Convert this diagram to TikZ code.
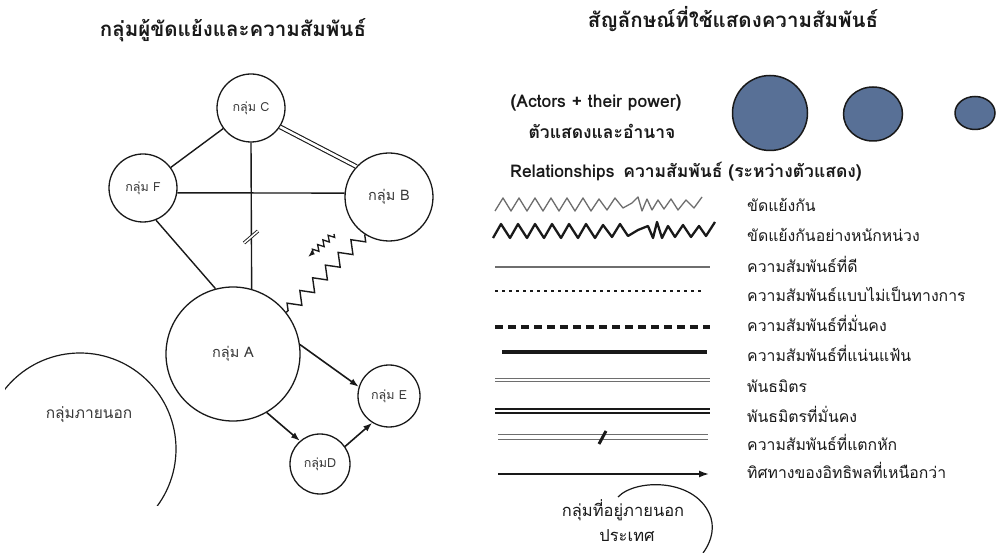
\documentclass[tikz,border=0pt]{standalone}
\usepackage{fontspec}
\setmainfont{Loma}[Script=Thai]
\usetikzlibrary{decorations.pathmorphing,arrows.meta,shapes.geometric,calc}
\definecolor{actorblue}{RGB}{88,112,150}
\definecolor{ink}{RGB}{25,25,25}
\definecolor{labelgray}{RGB}{55,55,55}
\definecolor{lightink}{RGB}{110,110,110}
\tikzset{
  actor/.style={circle,draw=ink,line width=1.3pt,inner sep=0pt,minimum size=#1,text=labelgray},
  smalllabel/.style={font=\fontsize{12.5}{14}\selectfont},
  biglabel/.style={font=\fontsize{14.5}{16}\selectfont},
  rel/.style={draw=ink,line width=1.4pt},
  allyline/.style={draw=ink,line width=1.1pt,double=white,double distance=2.6pt},
  infl/.style={draw=ink,line width=1.6pt,-{Latex[length=9pt,width=6.5pt]}},
  conflictline/.style={draw=ink,line width=1.4pt,decorate,decoration={zigzag,segment length=18pt,amplitude=6pt}},
  legendlabel/.style={anchor=base west,font=\fontsize{15.8}{18}\selectfont,text=ink,inner sep=0pt},
  headline/.style={anchor=base,font=\bfseries\fontsize{20.5}{24}\selectfont,text=ink,inner sep=0pt},
  legendhead/.style={font=\bfseries\fontsize{17.5}{20}\selectfont,text=ink,inner sep=0pt},
  powercircle/.style={ellipse,draw=ink,fill=actorblue,line width=1.5pt,inner sep=0pt},
  outergroup/.style={draw=ink,line width=1.2pt},
  thinzig/.style={draw=lightink,line width=1.3pt,line join=round},
  thickzig/.style={draw=ink,line width=2.3pt,line join=round}
}
\begin{document}
\begin{tikzpicture}[x=1pt,y=-1pt]
\useasboundingbox (0,0) rectangle (1002,553);
\fill[white] (0,0) rectangle (1002,553);

% ---------- left: actors ----------
\node[headline] (ltitle) at (233,37) {กลุ่มผู้ขัดแย้งและความสัมพันธ์};

\node[actor=68pt,smalllabel] (C) at (251,108) {กลุ่ม C};
\node[actor=68pt,smalllabel] (F) at (143,188) {กลุ่ม F};
\node[actor=88pt,biglabel] (B) at (389,197) {กลุ่ม B};
\node[actor=134pt,biglabel] (A) at (233,354) {กลุ่ม A};
\node[actor=62pt,smalllabel] (E) at (389,396) {กลุ่ม E};
\node[actor=60pt,smalllabel] (D) at (320,464) {กลุ่มD};

% outside group
\begin{scope}
  \clip (5,0) rectangle (200,505);
  \draw[outergroup] (80,449) circle[radius=96pt];
\end{scope}
\node[font=\fontsize{15.5}{18}\selectfont,text=labelgray] (ext) at (89,415) {กลุ่มภายนอก};

% relations
\draw[rel] (C) -- (F);
\draw[allyline] (C.-33) -- (B.137);
\draw[rel] (C.south) -- (A.74);
\draw[ink,line width=0.9pt,double=white,double distance=1.6pt] (251,237) ++(-7,6) -- ++(14,-12);
\draw[rel] (F.-8) -- (B.175);
\draw[rel] (F.-68) -- (A.105);
\draw[conflictline] (B.237) -- (A.38);
\coordinate (zs) at (334,234);
\coordinate (ze) at (308,257);
\draw[draw=ink,line width=1.3pt,decorate,decoration={zigzag,segment length=7pt,amplitude=3pt,post length=6pt},-{Latex[length=7pt,width=5pt]}] (zs) -- (ze);
\draw[infl] (A.8) -- (E.163);
\draw[infl] (A.-60) -- (D.131);
\draw[infl] (D.35) -- (E.238);

% ---------- right: legend ----------
\node[headline] (rtitle) at (733,28) {สัญลักษณ์ที่ใช้แสดงความสัมพันธ์};

\node[legendhead,anchor=base] (actors) at (596,108) {(Actors + their power)};
\node[legendhead,anchor=base] (actorsth) at (602,139) {ตัวแสดงและอำนาจ};

\node[powercircle,minimum width=75pt,minimum height=75pt] (p1) at (770,113) {};
\node[powercircle,minimum width=59pt,minimum height=54pt] (p2) at (873,114) {};
\node[powercircle,minimum width=40pt,minimum height=33pt] (p3) at (975,113) {};

\node[legendhead,anchor=base west] (relhead) at (510,178) {Relationships\enspace ความสัมพันธ์ (ระหว่างตัวแสดง)};

% sample lines
\coordinate (s3a) at (495,267); \coordinate (s3b) at (710,267);
\coordinate (s4a) at (495,291); \coordinate (s4b) at (705,291);
\coordinate (s5a) at (495,327); \coordinate (s5b) at (710,327);
\coordinate (s6a) at (502,352); \coordinate (s6b) at (707,352);
\coordinate (s7a) at (495,380); \coordinate (s7b) at (710,380);
\coordinate (s8a) at (495,411); \coordinate (s8b) at (710,411);
\coordinate (s9a) at (498,437); \coordinate (s9b) at (708,437);
\coordinate (s10a) at (498,474); \coordinate (s10b) at (709,474);

\draw[thinzig] (495,211) -- (503,198) -- (511,211) -- (519,198) -- (527,211) -- (535,198)
  -- (543,211) -- (551,198) -- (559,211) -- (567,198) -- (575,211) -- (583,198) -- (591,211)
  -- (599,199) -- (607,210) -- (615,198) -- (623,208) -- (632,203) -- (638,197) -- (642,211)
  -- (647,199) -- (652,210) -- (658,200) -- (664,209) -- (671,199) -- (678,210) -- (686,200)
  -- (694,208) -- (702,197);
\draw[thickzig] (493,238) -- (501,224) -- (510,238) -- (518,224) -- (527,238) -- (535,224)
  -- (544,238) -- (552,224) -- (561,238) -- (569,224) -- (578,238) -- (586,224) -- (595,238)
  -- (603,225) -- (612,237) -- (620,224) -- (628,236) -- (638,230) -- (648,226) -- (653,238)
  -- (657,222) -- (662,238) -- (668,226) -- (675,237) -- (683,225) -- (691,237) -- (699,226)
  -- (706,236) -- (715,222);
\draw[lightink,line width=1.3pt] (s3a) -- (s3b);
\draw[ink,line width=1.6pt,dash pattern=on 2.5pt off 4.5pt] (s4a) -- (s4b);
\draw[ink,line width=3.5pt,dash pattern=on 8pt off 5pt] (s5a) -- (s5b);
\draw[ink,line width=4pt] (s6a) -- (s6b);
\draw[lightink,line width=1.3pt,double=white,double distance=2.2pt] (s7a) -- (s7b);
\draw[ink,line width=2.4pt,double=white,double distance=2pt] (s8a) -- (s8b);
\draw[lightink,line width=1.1pt,double=white,double distance=3.2pt] (s9a) -- (s9b);
\draw[ink,line width=3pt] (599,444) -- (606,431);
\draw[ink,line width=1.6pt,-{Latex[length=10pt,width=7pt]}] (s10a) -- (s10b);

\node[legendlabel] (t1) at (747,212) {ขัดแย้งกัน};
\node[legendlabel] (t2) at (747,242) {ขัดแย้งกันอย่างหนักหน่วง};
\node[legendlabel] (t3) at (747,273) {ความสัมพันธ์ที่ดี};
\node[legendlabel] (t4) at (747,302) {ความสัมพันธ์แบบไม่เป็นทางการ};
\node[legendlabel] (t5) at (747,332) {ความสัมพันธ์ที่มั่นคง};
\node[legendlabel] (t6) at (747,362) {ความสัมพันธ์ที่แน่นแฟ้น};
\node[legendlabel] (t7) at (747,393) {พันธมิตร};
\node[legendlabel] (t8) at (747,422) {พันธมิตรที่มั่นคง};
\node[legendlabel] (t9) at (747,450) {ความสัมพันธ์ที่แตกหัก};
\node[legendlabel] (t10) at (747,478) {ทิศทางของอิทธิพลที่เหนือกว่า};

% outside-country group
\draw[outergroup] (618,497) .. controls (636,478) and (698,478) .. (711,518)
                  .. controls (715,532) and (709,545) .. (703,553);
\node[anchor=base,font=\fontsize{16.5}{18}\selectfont,text=ink,inner sep=0pt] (out1) at (623,516) {กลุ่มที่อยู่ภายนอก};
\node[anchor=base,font=\fontsize{16.5}{18}\selectfont,text=ink,inner sep=0pt] (out2) at (627,541) {ประเทศ};
\end{tikzpicture}
\end{document}
